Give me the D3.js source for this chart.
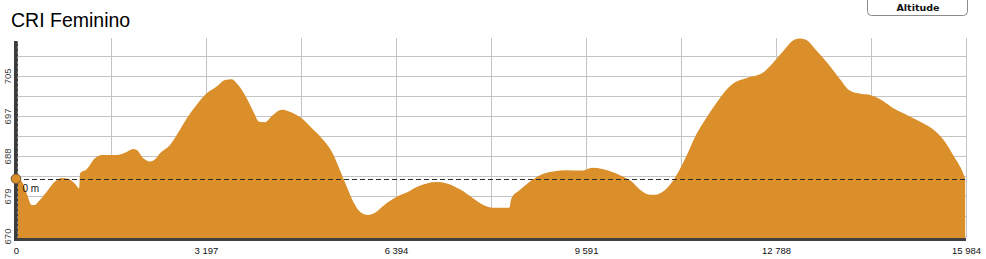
<!DOCTYPE html>
<html>
<head>
<meta charset="utf-8">
<script src="https://cdn.jsdelivr.net/npm/d3@7"></script>
<style>
  html, body { margin: 0; padding: 0; background: #fff; }
  svg { display: block; }
</style>
</head>
<body>
<div id="chart"></div>
<script>
// profile: distance (m) and altitude (m)
const distances = [0, 96, 180, 264, 320, 375, 517, 656, 769, 880, 993, 1062, 1078, 1190, 1329, 1442, 1694, 1834, 1974, 2031,
  2142, 2255, 2339, 2423, 2591, 2704, 2872, 3040, 3209, 3377, 3516, 3629, 3740, 3882, 3993, 4094, 4189, 4302, 4470, 4581,
  4778, 4975, 5143, 5312, 5451, 5564, 5675, 5788, 5928, 6040, 6237, 6405, 6574, 6742, 6910, 7078, 7247, 7470, 7694, 7862,
  8031, 8300, 8335, 8480, 8648, 8816, 9040, 9266, 9545, 9686, 9881, 10162, 10359, 10499, 10667, 10739, 10881, 11020, 11160, 11301,
  11441, 11609, 11778, 11946, 12085, 12282, 12563, 12731, 12900, 13068, 13179, 13292, 13460, 13657, 13852, 14020, 14217, 14385, 14582, 14777,
  15030, 15255, 15479, 15647, 15787, 15900, 15970];
const altitudes = [682.8, 682.2, 679.6, 677.1, 677.1, 677.8, 680.0, 682.2, 683.0, 682.8, 681.7, 680.7, 684.0, 684.9, 687.3, 688.0, 688.0, 688.5, 689.3, 689.1,
  687.3, 686.6, 687.1, 688.4, 690.2, 692.4, 696.0, 699.0, 701.5, 703.0, 704.4, 704.6, 703.3, 700.4, 697.5, 695.3, 695.2, 696.5, 697.9, 697.6,
  696.3, 693.9, 691.7, 688.8, 684.7, 681.1, 677.8, 675.6, 674.9, 675.4, 677.5, 678.9, 679.8, 681.0, 681.8, 682.1, 681.8, 680.5, 678.5, 677.1,
  676.5, 676.5, 678.5, 680.4, 682.2, 683.6, 684.4, 684.7, 684.6, 685.2, 684.9, 683.6, 682.2, 680.4, 679.3, 679.3, 680.0, 681.8, 684.7, 688.4,
  692.4, 696.0, 699.3, 702.2, 703.8, 704.8, 706.0, 708.1, 710.6, 713.0, 713.5, 713.2, 711.0, 708.1, 704.8, 702.2, 701.4, 701.1, 699.9, 698.1,
  696.5, 695.0, 693.1, 690.6, 687.6, 685.1, 682.9];

const title = "CRI Feminino";
const buttonLabel = "Altitude";
const markerLabel = "0 m";
const totalDistance = 15984;
const xTickValues = [0, 3197, 6394, 9591, 12788, 15984];
const yTickValues = [670.3, 679.05, 687.8, 696.55, 705.3];
const yDomain = [669.86, 713.6];

const W = 986, H = 259;
const plot = { left: 16, right: 966, top: 38, bottom: 238 };

const svg = d3.select("#chart").append("svg")
  .attr("width", W).attr("height", H)
  .attr("font-family", "Liberation Sans, Arial, sans-serif");

const x = d3.scaleLinear().domain([0, totalDistance]).range([plot.left, plot.right]);
const y = d3.scaleLinear().domain(yDomain).range([plot.bottom, plot.top]);

// title
svg.append("text")
  .attr("x", 11).attr("y", 27)
  .attr("font-size", 19.5)
  .attr("fill", "#000")
  .text(title);

// altitude button
svg.append("rect")
  .attr("x", 867.5).attr("y", -6)
  .attr("width", 100).attr("height", 21.5)
  .attr("rx", 4)
  .attr("fill", "#fff")
  .attr("stroke", "#8a8a8a");
svg.append("text")
  .attr("x", 918).attr("y", 10.5)
  .attr("text-anchor", "middle")
  .attr("font-family", "DejaVu Sans, Verdana, sans-serif")
  .attr("font-weight", "bold")
  .attr("font-size", 9.5)
  .attr("fill", "#111")
  .text(buttonLabel);

// grid
const xGrid = d3.range(0, 11).map(i => totalDistance * i / 10);
svg.append("g").selectAll("line").data(xGrid.slice(1)).join("line")
  .attr("x1", d => Math.round(x(d)) + 0.5).attr("x2", d => Math.round(x(d)) + 0.5)
  .attr("y1", plot.top).attr("y2", plot.bottom)
  .attr("stroke", "#c4c4c4").attr("stroke-width", 1);

const step = (yTickValues[1] - yTickValues[0]) / 2;
const yGrid = d3.range(0, 10).map(i => yTickValues[0] + step * i);
svg.append("g").selectAll("line").data(yGrid).join("line")
  .attr("x1", plot.left).attr("x2", plot.right)
  .attr("y1", d => Math.round(y(d)) + 0.5).attr("y2", d => Math.round(y(d)) + 0.5)
  .attr("stroke", "#c4c4c4").attr("stroke-width", 1);

// profile area
const data = distances.map((d, i) => ({ d, a: altitudes[i] }));
const area = d3.area()
  .x(p => x(p.d))
  .y0(plot.bottom)
  .y1(p => y(p.a))
  .curve(d3.curveMonotoneX);

svg.append("path")
  .datum(data)
  .attr("d", area)
  .attr("fill", "#da8f2b");

// start altitude reference
const startAlt = altitudes[0];
svg.append("line")
  .attr("x1", plot.left).attr("x2", plot.right)
  .attr("y1", Math.round(y(startAlt)) + 0.5).attr("y2", Math.round(y(startAlt)) + 0.5)
  .attr("stroke", "#2a2a2a")
  .attr("stroke-dasharray", "5,3");

// axes
const xAxis = d3.axisBottom(x)
  .tickValues(xTickValues)
  .tickSize(0)
  .tickPadding(9)
  .tickFormat(d => d3.format(",")(d).replace(/,/g, " "));

svg.append("g")
  .attr("transform", `translate(0,${plot.bottom})`)
  .call(xAxis)
  .call(g => g.select(".domain").remove())
  .call(g => g.selectAll("text")
    .attr("font-family", "Liberation Sans, Arial, sans-serif")
    .attr("font-size", 9.5)
    .attr("fill", "#111"));

svg.append("line")
  .attr("x1", plot.left - 2).attr("x2", plot.right)
  .attr("y1", plot.bottom + 1.5).attr("y2", plot.bottom + 1.5)
  .attr("stroke", "#404040").attr("stroke-width", 3);

const yAxis = d3.axisLeft(y)
  .tickValues(yTickValues)
  .tickSize(0)
  .tickFormat(d3.format(".0f"));

const yg = svg.append("g")
  .attr("transform", `translate(${plot.left},0)`)
  .call(yAxis)
  .call(g => g.select(".domain").remove());
yg.selectAll(".tick text")
  .attr("x", 0).attr("dy", 0)
  .attr("transform", "translate(-5,0) rotate(-90)")
  .attr("text-anchor", "middle")
  .attr("font-family", "Liberation Sans, Arial, sans-serif")
  .attr("font-size", 9.5)
  .attr("fill", "#444");

svg.append("line")
  .attr("x1", plot.left).attr("x2", plot.left)
  .attr("y1", 41).attr("y2", plot.bottom + 3)
  .attr("stroke", "#3c3c3c").attr("stroke-width", 4);
svg.append("line")
  .attr("x1", plot.left + 1.5).attr("x2", plot.left + 1.5)
  .attr("y1", 41).attr("y2", plot.bottom)
  .attr("stroke", "#7a7a7a").attr("stroke-width", 1)
  .attr("stroke-dasharray", "3,2");

// start marker
svg.append("circle")
  .attr("cx", x(0)).attr("cy", y(startAlt))
  .attr("r", 4.8)
  .attr("fill", "#da8f2b")
  .attr("stroke", "#6b5535").attr("stroke-width", 1);
svg.append("text")
  .attr("x", 22.5).attr("y", 191.5)
  .attr("font-size", 10)
  .attr("fill", "#111")
  .text(markerLabel);
</script>
</body>
</html>
